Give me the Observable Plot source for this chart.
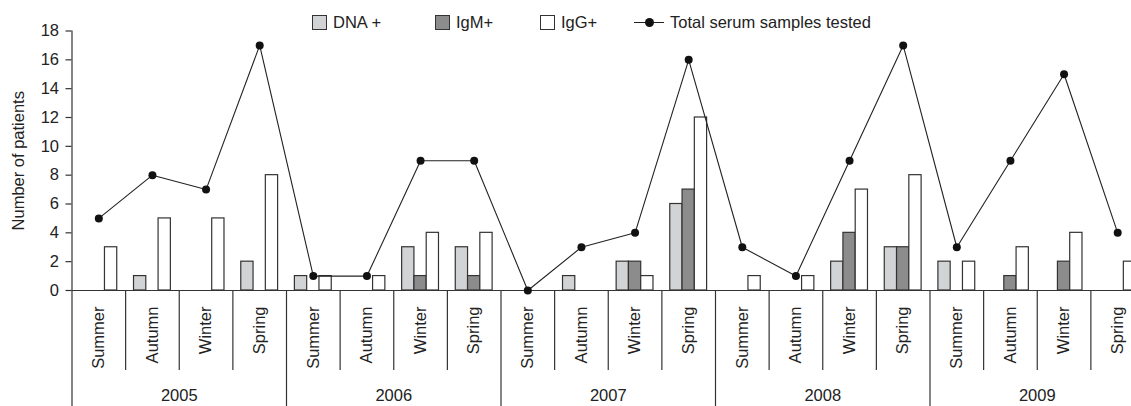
<!DOCTYPE html>
<html>
<head>
<meta charset="utf-8">
<script src="https://cdn.jsdelivr.net/npm/d3@7"></script>
<script src="https://cdn.jsdelivr.net/npm/@observablehq/plot@0.6"></script>
<style>
html, body { margin: 0; padding: 0; background: #fff; overflow: hidden; width: 1131px; height: 406px; }
#wrap { position: relative; width: 1131px; height: 406px; overflow: hidden; font-family: "Liberation Sans", Arial, sans-serif; color: #222; }
#chart { position: absolute; left: 0; top: 0; width: 1150px; }
#chart svg { max-width: none !important; }
.leg { position: absolute; top: 12px; font-size: 16.5px; line-height: 20px; white-space: nowrap; display: flex; align-items: center; }
.sw { width: 13px; height: 13px; border: 1px solid #333; box-sizing: content-box; margin-right: 6px; }
.ln { position: relative; width: 30px; height: 1px; background: #222; margin-right: 6px; }
.ln::after { content: ""; position: absolute; left: 11px; top: -4px; width: 9px; height: 9px; border-radius: 50%; background: #111; }
</style>
</head>
<body>
<div id="wrap">
  <div id="chart"></div>
  <div class="leg" style="left:312px"><span class="sw" style="background:#d1d3d4"></span>DNA +</div>
  <div class="leg" style="left:435px"><span class="sw" style="background:#8c8c8c"></span>IgM+</div>
  <div class="leg" style="left:540px"><span class="sw" style="background:#fff"></span>IgG+</div>
  <div class="leg" style="left:634px"><span class="ln"></span>Total serum samples tested</div>
</div>
<script>
const years = ["2005", "2006", "2007", "2008", "2009"];
const seasons = ["Summer", "Autumn", "Winter", "Spring"];
const dnaPos = [0, 1, 0, 2,  1, 0, 3, 3,  0, 1, 2, 6,  0, 0, 2, 3,  2, 0, 0, 0];
const igmPos = [0, 0, 0, 0,  0, 0, 1, 1,  0, 0, 2, 7,  0, 0, 4, 3,  0, 1, 2, 0];
const iggPos = [3, 5, 5, 8,  1, 1, 4, 4,  0, 0, 1, 12, 1, 1, 7, 8,  2, 3, 4, 2];
const totalTested = [5, 8, 7, 17,  1, 1, 9, 9,  0, 3, 4, 16,  3, 1, 9, 17,  3, 9, 15, 4];
const seriesNames = ["DNA +", "IgM+", "IgG+"];
const seriesColors = ["#d1d3d4", "#8c8c8c", "#ffffff"];

// Build tables
const cats = [];
years.forEach((y, yi) => seasons.forEach((s, si) => cats.push({year: y, season: s, i: yi * 4 + si})));
const seriesVals = [dnaPos, igmPos, iggPos];
const barW = 0.229;
const bars = [];
cats.forEach(c => seriesVals.forEach((vals, k) => {
  const x1 = c.i + 0.5 + (k - 1.5) * barW;
  bars.push({series: seriesNames[k], k, x1, x2: x1 + barW, v: vals[c.i]});
}));
const line = cats.map(c => ({x: c.i + 0.5, v: totalTested[c.i]}));
const yearMid = years.map((y, yi) => ({year: y, x: yi * 4 + 2}));
const bounds = d3.range(0, cats.length + 1);
const yearBounds = bounds.filter(b => b % 4 === 0);
const seasonBounds = bounds.filter(b => b % 4 !== 0);

const W = 1150, H = 406, mt = 30.5, mb = 116, ml = 71.5, mr = 6;
const fh = H - mt - mb;
const font = "Liberation Sans, Arial, sans-serif";
const fs = 16.5;

const plot = Plot.plot({
  width: W, height: H,
  marginTop: mt, marginBottom: mb, marginLeft: ml, marginRight: mr,
  style: {fontFamily: font, fontSize: fs + "px", color: "#222", background: "#fff", overflow: "visible", maxWidth: "none"},
  x: {domain: [0, cats.length], axis: null},
  y: {domain: [0, 18], axis: null},
  marks: [
    Plot.rectY(bars, {x1: "x1", x2: "x2", y: "v", fill: d => seriesColors[d.k], stroke: "#333", strokeWidth: 1.2}),
    Plot.ruleY([0], {stroke: "#333", strokeWidth: 1.2}),
    Plot.ruleX(seasonBounds, {x: d => d, stroke: "#333", strokeWidth: 1.2, insetTop: fh, insetBottom: -80}),
    Plot.ruleX(yearBounds, {x: d => d, stroke: "#333", strokeWidth: 1.2, insetTop: fh, insetBottom: -mb}),
    Plot.ruleX([0], {stroke: "#333", strokeWidth: 1.2}),
    Plot.axisY({ticks: d3.range(0, 19, 2), tickSize: 6, tickPadding: 7, label: null, stroke: "#333", strokeWidth: 1.2, fontSize: fs, fill: "#222"}),
    Plot.text(["Number of patients"], {frameAnchor: "left", dx: -53, rotate: -90, textAnchor: "middle", lineAnchor: "middle", fontSize: fs, fill: "#222"}),
    Plot.line(line, {x: "x", y: "v", stroke: "#222", strokeWidth: 1.1}),
    Plot.dot(line, {x: "x", y: "v", r: 4, fill: "#111", stroke: "none"}),
    Plot.text(cats, {x: c => c.i + 0.5, text: "season", frameAnchor: "bottom", dy: 16, rotate: -90, textAnchor: "end", lineAnchor: "middle", fontSize: fs, fill: "#222"}),
    Plot.text(yearMid, {x: "x", text: "year", frameAnchor: "bottom", dy: 105.5, lineAnchor: "middle", fontSize: fs, fill: "#222"})
  ]
});
plot.style.maxWidth = "none";
document.getElementById("chart").appendChild(plot);
</script>
</body>
</html>
